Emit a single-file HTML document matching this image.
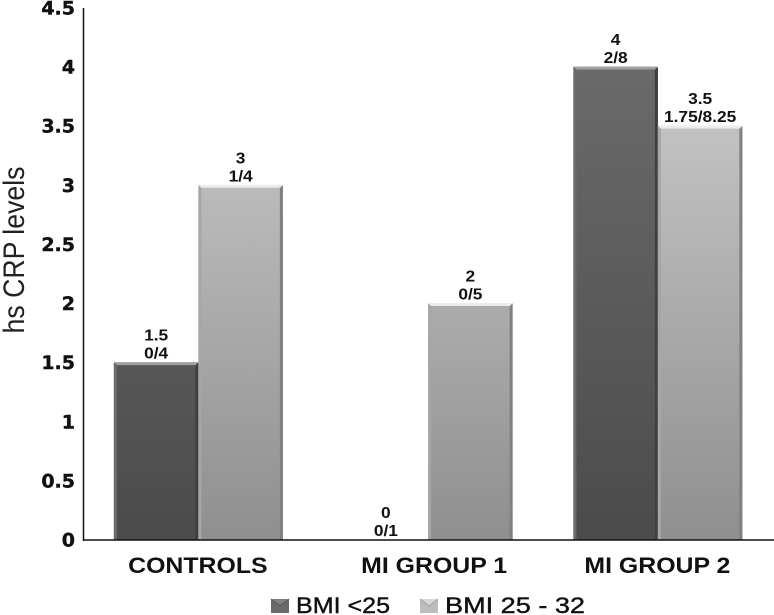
<!DOCTYPE html>
<html>
<head>
<meta charset="utf-8">
<style>
html,body{margin:0;padding:0;background:#fff;width:774px;height:615px;overflow:hidden}
svg{display:block}
text{font-family:"Liberation Sans",sans-serif;fill:#111}
</style>
</head>
<body>
<svg id="chart" width="774" height="615" viewBox="0 0 774 615">
<defs>
<linearGradient id="gradLightTall" gradientUnits="userSpaceOnUse" x1="0" y1="126" x2="0" y2="540"><stop offset="0" stop-color="#c2c2c2"/><stop offset="1" stop-color="#8f8f8f"/></linearGradient>
<linearGradient id="gradDarkTall" gradientUnits="userSpaceOnUse" x1="0" y1="67" x2="0" y2="540"><stop offset="0" stop-color="#6a6a6a"/><stop offset="1" stop-color="#4b4b4b"/></linearGradient>
</defs>
<g id="bars"></g>
<g id="labels"></g>
<g id="yaxis"></g>
<g id="xaxis"></g>
<text x="24" y="250" transform="rotate(-90 24 250)" text-anchor="middle" font-size="30" style="fill:#222" textLength="167" lengthAdjust="spacingAndGlyphs">hs CRP levels</text>
<g>
  <g>
    <rect x="271" y="599" width="18" height="14" fill="#6a6a6a"/>
    <path d="M271 599 L280 606 L289 599" fill="#808080" stroke="#555" stroke-width="1"/>
    <text x="296" y="613" font-size="22" style="stroke:#111;stroke-width:.4" textLength="94" lengthAdjust="spacingAndGlyphs">BMI &lt;25</text>
  </g>
  <g>
    <rect x="420" y="599" width="18" height="14" fill="#bcbcbc"/>
    <path d="M420 599 L429 606 L438 599" fill="#d6d6d6" stroke="#a0a0a0" stroke-width="1"/>
    <text x="445" y="613" font-size="22" style="stroke:#111;stroke-width:.4" textLength="140" lengthAdjust="spacingAndGlyphs">BMI 25 - 32</text>
  </g>
</g>
</svg>
<script>
const categories = ["CONTROLS", "MI GROUP 1", "MI GROUP 2"];
const bmiUnder25 = [1.5, 0, 4];
const bmi25to32 = [3, 2, 3.5];
const bmiUnder25Ranges = ["0/4", "0/1", "2/8"];
const bmi25to32Ranges = ["1/4", "0/5", "1.75/8.25"];
const bmiUnder25Labels = ["1.5", "0", "4"];
const bmi25to32Labels = ["3", "2", "3.5"];
const yTicks = [0, 0.5, 1, 1.5, 2, 2.5, 3, 3.5, 4, 4.5];

const NS = "http://www.w3.org/2000/svg";
const y0 = 540, pxPerUnit = 118.25;
const x0 = 83.5, band = 229.75, barW = 84.5;
function yScale(v){ return y0 - v * pxPerUnit; }
function xCenter(i){ return x0 + band * (i + 0.5); }
function mk(tag, attrs, parent, text){
  const el = document.createElementNS(NS, tag);
  for (const k in attrs) el.setAttribute(k, attrs[k]);
  if (text !== undefined) el.textContent = text;
  parent.appendChild(el);
  return el;
}
const barsG = document.getElementById("bars");
const labelsG = document.getElementById("labels");
const yG = document.getElementById("yaxis");
const xG = document.getElementById("xaxis");

function drawBar(i, v, side, fill, hi, leftEdge, rightEdge, valueLabel, rangeLabel, key){
  const cx = xCenter(i);
  const x = side < 0 ? cx - barW : cx;
  const top = yScale(v);
  const h = y0 - top;
  const base = categories[i].toLowerCase().replace(/ /g, "-") + "-" + key;
  if (h > 0) {
    const g = mk("g", {}, barsG);
    
    
    mk("rect", {x: x, y: top, width: barW, height: h, fill: fill}, g);
    mk("polygon", {points: x + "," + top + " " + (x + 3) + "," + (top + 3) + " " + (x + 3) + "," + y0 + " " + x + "," + y0, fill: leftEdge}, g);
    mk("polygon", {points: (x + barW) + "," + top + " " + (x + barW - 3) + "," + (top + 3) + " " + (x + barW - 3) + "," + y0 + " " + (x + barW) + "," + y0, fill: rightEdge}, g);
    mk("polygon", {points: x + "," + (top - 0.5) + " " + (x + barW) + "," + (top - 0.5) + " " + (x + barW - 3) + "," + (top + 2.5) + " " + (x + 3) + "," + (top + 2.5), fill: hi}, g);
  }
  const tx = x + barW / 2;
  const t1 = mk("text", {transform: "translate(" + tx + " " + (top - 22) + ") scale(1.12 1)", "text-anchor": "middle", "font-size": 15.5, "font-weight": "bold"}, labelsG, valueLabel);
  
  
  const t2 = mk("text", {transform: "translate(" + tx + " " + (top - 4) + ") scale(1.12 1)", "text-anchor": "middle", "font-size": 15.5, "font-weight": "bold"}, labelsG, rangeLabel);
  
  
}
categories.forEach(function(c, i){
  drawBar(i, bmiUnder25[i], -1, "url(#gradDarkTall)", "#a0a0a0", "#6c6c6c", "#3f3f3f", bmiUnder25Labels[i], bmiUnder25Ranges[i], "bmi-under-25");
  drawBar(i, bmi25to32[i], 1, "url(#gradLightTall)", "#ececec", "#a6a6a6", "#808080", bmi25to32Labels[i], bmi25to32Ranges[i], "bmi-25-32");
  const labelX = xCenter(i) + (i === 1 ? 6 : -0.5);
  const t = mk("text", {transform: "translate(" + labelX + " 573) scale(1.13 1)", "text-anchor": "middle", "font-size": 22, "font-weight": "bold"}, xG, c);
  
  
});
yTicks.forEach(function(v){
  const t = mk("text", {x: 75, y: yScale(v) + 6.5, "text-anchor": "end", "font-size": 19, "font-weight": "bold", style: "font-family:'DejaVu Sans','Liberation Sans',sans-serif;stroke:#111;stroke-width:.4"}, yG, String(v));
  
  
});
const yLine = mk("line", {x1: x0, y1: 8, x2: x0, y2: y0 + 1, stroke: "#111", "stroke-width": 1.5}, yG);


const xLine = mk("line", {x1: x0, y1: y0, x2: 774, y2: y0, stroke: "#111", "stroke-width": 1.5}, xG);


</script>
</body>
</html>
